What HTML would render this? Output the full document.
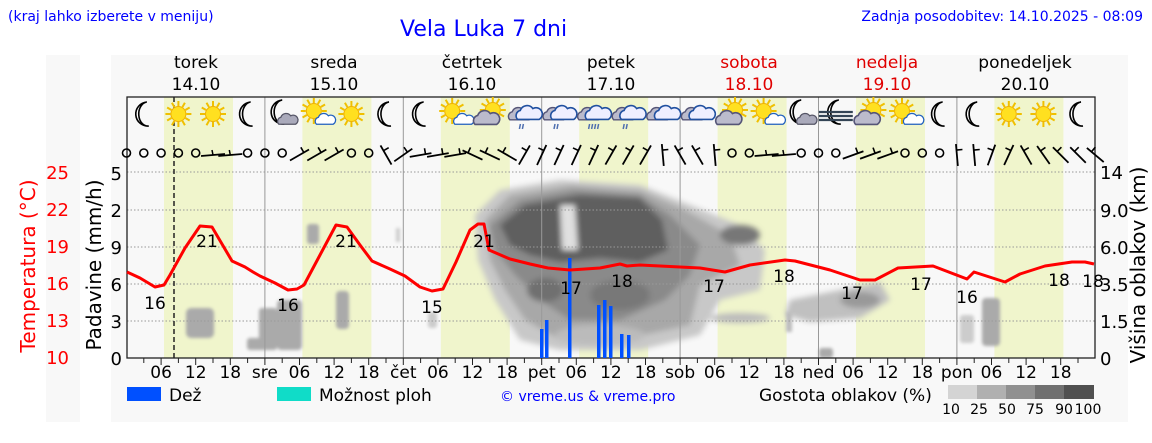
<!DOCTYPE html>
<html><head><meta charset="utf-8">
<style>
body{margin:0;width:1152px;height:443px;background:#fff;overflow:hidden;font-family:"Liberation Sans","DejaVu Sans",sans-serif;}
svg{position:absolute;left:0;top:0}
</style></head><body>
<svg id="s" width="1152" height="443" viewBox="0 0 1152 443" font-family="DejaVu Sans, Liberation Sans, sans-serif">
<defs>
<filter id="bl" x="-50%" y="-50%" width="200%" height="200%"><feGaussianBlur stdDeviation="3"/></filter>
<filter id="bl2" x="-50%" y="-50%" width="200%" height="200%"><feGaussianBlur stdDeviation="1.5"/></filter>
<clipPath id="pc"><rect x="127" y="97" width="968" height="261"/></clipPath>
</defs>
<rect x="46" y="55" width="34" height="367" fill="#f8f8f8"/>
<rect x="111" y="55" width="1017" height="367" fill="#f8f8f8"/>
<g id="bg"></g>
<g id="cl" clip-path="url(#pc)">
 <g filter="url(#bl)">
  <path d="M475,215 L500,190 L560,180 L640,185 L690,205 L740,225 L765,250 L760,290 L720,300 L700,335 L640,350 L560,350 L520,340 L495,300 L478,260 Z" fill="#c8c8c8"/>
  <path d="M485,220 L510,195 L570,185 L640,190 L685,210 L730,235 L740,265 L700,285 L690,325 L620,340 L560,340 L525,320 L505,290 L490,260 Z" fill="#a8a8a8"/>
  <path d="M490,225 L520,200 L575,190 L640,195 L670,215 L700,245 L690,275 L665,300 L620,320 L570,320 L540,300 L515,275 L495,250 Z" fill="#8a8a8a"/>
  <path d="M500,225 L525,205 L580,195 L640,198 L662,220 L668,250 L640,262 L600,258 L560,262 L530,255 L510,245 Z" fill="#5e5e5e"/>
  <path d="M560,205 L575,205 L578,250 L562,250 Z" fill="#e0e0e0"/>
  <ellipse cx="545" cy="290" rx="18" ry="12" fill="#707070"/>
  <ellipse cx="620" cy="295" rx="30" ry="15" fill="#787878"/>
  <ellipse cx="740" cy="235" rx="20" ry="10" fill="#777"/>
  <ellipse cx="600" cy="335" rx="45" ry="10" fill="#bbb"/>
  <path d="M790,300 L840,290 L880,282 L890,300 L860,318 L810,322 L785,315 Z" fill="#c0c0c0"/>
  <ellipse cx="860" cy="300" rx="20" ry="8" fill="#999"/>
  <ellipse cx="740" cy="318" rx="30" ry="5" fill="#bbb"/>
 </g>
 <g fill="#aaa" filter="url(#bl2)">
  <rect x="186" y="308" width="28" height="30" rx="5"/>
  <rect x="259" y="308" width="18" height="42" rx="3"/>
  <rect x="247" y="338" width="30" height="12" rx="3"/>
  <rect x="277" y="300" width="25" height="50" rx="4"/>
  <rect x="336" y="291" width="13" height="38" rx="4"/>
  <rect x="307" y="224" width="12" height="20" rx="3"/>
  <rect x="428" y="312" width="9" height="16" rx="3" fill="#ccc"/>
  <rect x="396" y="228" width="4" height="14" fill="#ccc"/>
  <rect x="982" y="298" width="18" height="48" rx="4"/>
  <rect x="960" y="315" width="14" height="28" rx="3" fill="#ccc"/>
  <rect x="819" y="348" width="14" height="10" rx="3"/>
  <rect x="786" y="312" width="6" height="20" fill="#bbb"/>
 </g>
</g>
<g id="grid"></g>
<g id="fg"></g>
<g id="txt" font-size="17" fill="#000">
 <text x="8" y="21" font-size="14" fill="#0000ff">(kraj lahko izberete v meniju)</text>
 <text x="400" y="36" font-size="22" fill="#0000ff">Vela Luka 7 dni</text>
 <text x="1143" y="21" font-size="14" fill="#0000ff" text-anchor="end">Zadnja posodobitev: 14.10.2025 - 08:09</text>
 <g text-anchor="middle">
  <text x="196" y="68">torek</text><text x="196" y="90">14.10</text>
  <text x="334" y="68">sreda</text><text x="334" y="90">15.10</text>
  <text x="472" y="68">četrtek</text><text x="472" y="90">16.10</text>
  <text x="611" y="68">petek</text><text x="611" y="90">17.10</text>
  <text x="749" y="68" fill="#e00000">sobota</text><text x="749" y="90" fill="#e00000">18.10</text>
  <text x="887" y="68" fill="#e00000">nedelja</text><text x="887" y="90" fill="#e00000">19.10</text>
  <text x="1025" y="68">ponedeljek</text><text x="1025" y="90">20.10</text>
 </g>
 <g fill="#ff0000" font-size="18" text-anchor="end">
  <text x="69" y="364">10</text><text x="69" y="327">13</text><text x="69" y="290">16</text>
  <text x="69" y="253">19</text><text x="69" y="216">22</text><text x="69" y="179">25</text>
 </g>
 <text transform="translate(35,266) rotate(-90)" fill="#ff0000" font-size="20" text-anchor="middle">Temperatura (°C)</text>
 <g font-size="18" text-anchor="end">
  <text x="122" y="365">0</text><text x="122" y="328">3</text><text x="122" y="291">6</text>
  <text x="122" y="254">9</text><text x="122" y="217">2</text><text x="122" y="180">5</text>
 </g>
 <text transform="translate(101,265) rotate(-90)" font-size="20" text-anchor="middle">Padavine (mm/h)</text>
 <g font-size="18">
  <text x="1100" y="365">0</text><text x="1100" y="328">1.5</text><text x="1100" y="291">3.5</text>
  <text x="1100" y="254">6.0</text><text x="1100" y="217">9.0</text><text x="1100" y="179">14</text>
 </g>
 <text transform="translate(1145,265) rotate(-90)" font-size="20" text-anchor="middle">Višina oblakov (km)</text>
 <g id="tl" text-anchor="middle"></g>
 <g font-size="17" text-anchor="middle">
  <text x="155" y="309">16</text><text x="207" y="247">21</text><text x="288" y="311">16</text>
  <text x="346" y="247">21</text><text x="432" y="313">15</text><text x="484" y="247">21</text>
  <text x="571" y="294">17</text><text x="622" y="287">18</text><text x="714" y="292">17</text>
  <text x="784" y="282">18</text><text x="852" y="299">17</text><text x="921" y="290">17</text>
  <text x="967" y="303">16</text><text x="1059" y="286">18</text><text x="1093" y="287">18</text>
 </g>
 <rect x="127" y="387" width="34" height="14" fill="#0050ff"/>
 <text x="169" y="401" font-size="17">Dež</text>
 <rect x="277" y="387" width="34" height="14" fill="#10dcc8"/>
 <text x="319" y="401" font-size="17">Možnost ploh</text>
 <text x="500" y="401" font-size="14" fill="#0000ff">© vreme.us &amp; vreme.pro</text>
 <text x="759" y="401" font-size="17">Gostota oblakov (%)</text>
 <rect x="948" y="385" width="29" height="14" fill="#d4d4d4"/>
 <rect x="977" y="385" width="29" height="14" fill="#b0b0b0"/>
 <rect x="1006" y="385" width="29" height="14" fill="#909090"/>
 <rect x="1035" y="385" width="29" height="14" fill="#707070"/>
 <rect x="1064" y="385" width="30" height="14" fill="#505050"/>
 <g font-size="14" text-anchor="middle">
  <text x="951" y="414">10</text><text x="979" y="414">25</text><text x="1007" y="414">50</text>
  <text x="1035" y="414">75</text><text x="1064" y="414">90</text><text x="1088" y="414">100</text>
 </g>
</g>
</svg>
<script>
var NS="http://www.w3.org/2000/svg";
function el(p,t,a){var e=document.createElementNS(NS,t);for(var k in a)e.setAttribute(k,a[k]);p.appendChild(e);return e;}
var bg=document.getElementById('bg'),gr=document.getElementById('grid'),fg=document.getElementById('fg'),tl=document.getElementById('tl');
var X0=126.5,D=138.4,H=D/24;
el(bg,'rect',{x:127,y:97,width:968,height:261,fill:'#f8f8f8'});
for(var d=0;d<7;d++){el(bg,'rect',{x:164+D*d,y:97,width:69,height:261,fill:'#f0f5cc'});}
for(var d=1;d<7;d++){el(gr,'line',{x1:X0+D*d,y1:97,x2:X0+D*d,y2:358,stroke:'#999','stroke-width':1});}
[172,210,247,284,321].forEach(function(y){el(gr,'line',{x1:127,y1:y,x2:1095,y2:y,stroke:'#999','stroke-width':1,'stroke-dasharray':'1.5,2'});});
el(fg,'rect',{x:127,y:97,width:968,height:261,fill:'none',stroke:'#222','stroke-width':1.3});
for(var h=3;h<168;h+=3){var x=X0+h*H;el(fg,'line',{x1:x,y1:358,x2:x,y2:h%6?363:365,stroke:'#222'});}
var nm=['','sre','čet','pet','sob','ned','pon'];
for(var d=0;d<7;d++){[6,12,18].forEach(function(h){var t=el(tl,'text',{x:X0+D*d+h*H,y:378});t.textContent=(h<10?'0':'')+h;});
 if(d>0){var t=el(tl,'text',{x:X0+D*d,y:378});t.textContent=nm[d];}}
el(fg,'line',{x1:174,y1:97,x2:174,y2:358,stroke:'#222','stroke-width':1.5,'stroke-dasharray':'5,3'});
[[540,329],[545,320],[568,258],[597,305],[603,300],[609,306],[620,334],[627,335]].forEach(function(b){el(fg,'rect',{x:b[0],y:b[1],width:3.5,height:358-b[1],fill:'#0050ff'});});
var tp=[[127,272],[140,278],[155,287],[164,285],[170,275],[185,248],[200,226],[212,227],[222,244],[232,261],[245,267],[253,272],[260,276],[275,283],[288,290],[297,289],[304,285],[320,255],[336,225],[347,227],[360,245],[372,261],[390,269],[405,276],[420,287],[432,291],[443,289],[456,262],[470,230],[478,224],[484,224],[489,250],[510,259],[530,264],[548,268],[570,270],[600,268],[620,264],[627,266],[640,265],[700,268],[725,272],[750,265],[785,260],[795,261],[830,270],[860,280],[875,280],[898,268],[933,266],[967,279],[974,272],[1005,282],[1020,274],[1045,266],[1072,262],[1085,262],[1094,264]];
el(fg,'polyline',{points:tp.map(function(p){return p.join(',')}).join(' '),fill:'none',stroke:'#ff0000','stroke-width':3,'stroke-linejoin':'round'});
// wind: angle in degrees of the shaft direction from lower end to upper end (screen coords, 0=right, -90=up)
var w="o o o o o h h o o o 30 30 30 o o 120 35 10 10 10 155 155 150 60 65 65 65 65 60 60 60 95 120 120 95 o o h h o o o 20 20 20 o o o 95 95 70 65 120 125 135 135 140".split(' ');
for(var i=0;i<w.length;i++){var x=X0+i*3*H,y=153,c=w[i];
 if(c=='o'){el(fg,'circle',{cx:x,cy:y,r:4,fill:'none',stroke:'#000','stroke-width':1.6});continue;}
 if(c=='h'){el(fg,'line',{x1:x-12,y1:y+3,x2:x+12,y2:y+1,stroke:'#000','stroke-width':1.8});el(fg,'line',{x1:x,y1:y+2,x2:x-1,y2:y-3,stroke:'#000','stroke-width':1.5});continue;}
 var a=-parseFloat(c)*Math.PI/180,L=11;
 var ux=Math.cos(a),uy=Math.sin(a);
 var x1=x-ux*L,y1=y+2-uy*L,x2=x+ux*L,y2=y+2+uy*L;
 el(fg,'line',{x1:x1,y1:y1,x2:x2,y2:y2,stroke:'#000','stroke-width':1.8});
 var px=uy,py=-ux; if(py>0){px=-px;py=-py;}
 var mx=x+ux*5,my=y+2+uy*5;
 el(fg,'line',{x1:mx,y1:my,x2:mx+px*6,y2:my+py*6,stroke:'#000','stroke-width':1.6});
}
function moon(x,y){el(fg,'path',{d:'M'+(x+3)+','+(y-12)+' A12,12 0 1 0 '+(x+5)+','+(y+12)+' A9,12 0 1 1 '+(x+3)+','+(y-12)+'Z',fill:'#fff',stroke:'#000','stroke-width':1.6});}
function sun(x,y){var g=el(fg,'g',{});for(var k=0;k<12;k++){var a=k*Math.PI/6;el(g,'line',{x1:x+Math.cos(a)*8,y1:y+Math.sin(a)*8,x2:x+Math.cos(a)*13,y2:y+Math.sin(a)*13,stroke:'#f0c000','stroke-width':2});}el(g,'circle',{cx:x,cy:y,r:7.5,fill:'#ffe020',stroke:'#f0b000'});}
function cloud(x,y,s,col,fill){var g=el(fg,'g',{transform:'translate('+x+','+y+') scale('+s+')'});el(g,'path',{d:'M-12,6 A6,6 0 0 1 -9,-4 A8,8 0 0 1 5,-6 A6,6 0 0 1 12,6 Z',fill:fill,stroke:col,'stroke-width':1.8});}
function rain(x,y,n){for(var k=0;k<n;k++)el(fg,'line',{x1:x-4+k*3,y1:y,x2:x-5+k*3,y2:y+5,stroke:'#5070b0','stroke-width':1.5});}
var ic="m s s m mc sc s m m sc sC r r R r o o sC sc mc f sC sc m m s s m".split(' ');
for(var i=0;i<28;i++){var x=X0+(3+6*i)*H,y=114,t=ic[i];
 if(t=='m')moon(x,y);
 else if(t=='s')sun(x,y);
 else if(t=='mc'){moon(x-3,y-2);cloud(x+5,y+6,0.7,'#556','#aab');}
 else if(t=='sc'){sun(x-3,y-3);cloud(x+8,y+6,0.7,'#2060c0','#fff');}
 else if(t=='sC'){sun(x+3,y-4);cloud(x-4,y+5,0.9,'#557','#bbc');}
 else if(t=='r'||t=='R'){cloud(x-5,y+1,0.8,'#557','#bbc');cloud(x+4,y,0.9,'#2050a0','#eef');rain(x,y+10,t=='R'?4:2);}
 else if(t=='o'){cloud(x-5,y+1,0.8,'#557','#bbc');cloud(x+4,y,0.9,'#2050a0','#eef');}
 else if(t=='f'){moon(x,y-2);for(var k=0;k<3;k++)el(fg,'line',{x1:x-17,y1:y-2+k*4,x2:x+17,y2:y-2+k*4,stroke:'#345','stroke-width':2.2});}
}
</script>
</body></html>
